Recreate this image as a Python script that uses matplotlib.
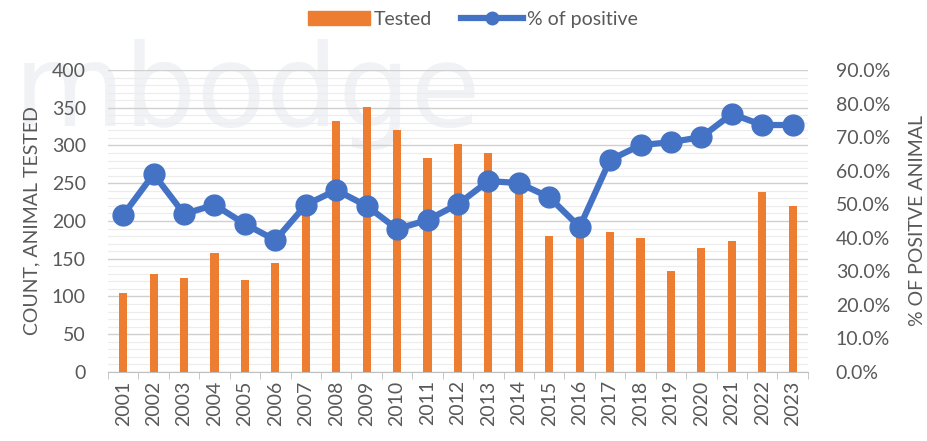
import matplotlib.pyplot as plt
import numpy as np
from matplotlib.ticker import MultipleLocator, FuncFormatter
from matplotlib.patches import Patch
from matplotlib.lines import Line2D

plt.rcParams['font.family'] = ['Lato', 'DejaVu Sans']

years = [str(y) for y in range(2001, 2024)]
tested = [105, 130, 125, 158, 122, 144, 212, 333, 351, 320, 284, 302, 290, 250,
          180, 190, 185, 177, 134, 164, 174, 238, 220]
pct_positive = [46.8, 59.0, 47.1, 49.8, 44.1, 39.3, 49.8, 54.2, 49.5, 42.6, 45.3,
                50.0, 56.9, 56.3, 52.1, 43.2, 63.2, 67.6, 68.5, 70.0, 76.9, 73.6, 73.6]

orange = '#ed7d31'
blue = '#4472c4'
txt = '#595959'

fig = plt.figure(figsize=(9.27, 4.41), dpi=100)
ax = fig.add_axes([0.1165, 0.1565, 0.755, 0.6848])

# faint watermark behind the chart
fig.text(0.015, 0.715, 'mbodge', fontsize=82, color='#f0f2f5', zorder=-1,
         family='DejaVu Sans')
ax.patch.set_visible(False)

x = np.arange(len(years))
ax.bar(x, tested, width=0.27, color=orange, zorder=3)
ax.set_ylim(0, 400)
ax.set_xlim(-0.5, len(years) - 0.5)
ax.yaxis.set_major_locator(MultipleLocator(50))
ax.yaxis.set_minor_locator(MultipleLocator(10))
ax.grid(axis='y', which='major', color='#d0d0d0', linewidth=1.0, zorder=0)
ax.grid(axis='y', which='minor', color='#ececec', linewidth=0.8, zorder=0)
ax.set_axisbelow(True)
for s in ['top', 'right', 'left']:
    ax.spines[s].set_visible(False)
ax.spines['bottom'].set_color('#bfbfbf')
ax.set_xticks(x)
ax.set_xticklabels(years, rotation=90, fontsize=14, color=txt)
ax.tick_params(axis='x', which='major', length=0, pad=6)
ax.set_xticks(np.arange(-0.5, len(years), 1), minor=True)
ax.tick_params(axis='x', which='minor', length=5, color='#bfbfbf')
ax.tick_params(axis='y', which='both', length=0, labelsize=14, labelcolor=txt, pad=16)
ax.set_ylabel('COUNT, ANIMAL TESTED', fontsize=14, color=txt, labelpad=8)

ax2 = ax.twinx()
ax2.patch.set_visible(False)
ax2.plot(x, pct_positive, color=blue, linewidth=4.5, marker='o', markersize=15, zorder=4)
ax2.set_ylim(0, 90)
ax2.yaxis.set_major_locator(MultipleLocator(10))
ax2.yaxis.set_major_formatter(FuncFormatter(lambda v, p: f'{v:.1f}%'))
for s in ['top', 'right', 'left', 'bottom']:
    ax2.spines[s].set_visible(False)
ax2.tick_params(axis='y', length=0, labelsize=14, labelcolor=txt, pad=20)
ax2.set_ylabel('% OF POSITVE ANIMAL', fontsize=14, color=txt, labelpad=14)

handles = [Patch(color=orange), Line2D([0], [0], color=blue, linewidth=4.5, marker='o', markersize=9)]
fig.legend(handles, ['Tested', '% of positive'], loc='upper center', bbox_to_anchor=(0.51, 1.015),
           ncol=2, frameon=False, fontsize=14, labelcolor=txt, handlelength=3.2,
           handletextpad=0.2, columnspacing=1.5)

fig.savefig('out.png', dpi=100)
